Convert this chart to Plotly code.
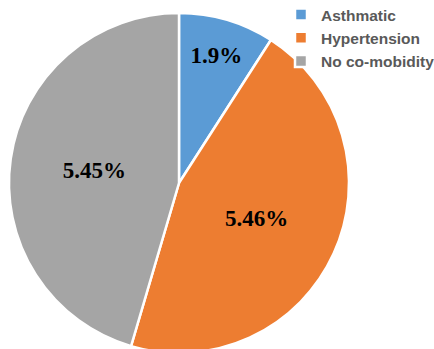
import plotly.graph_objects as go

categories = ["Asthmatic", "Hypertension", "No co-mobidity"]
shares = [9.09, 45.46, 45.45]
label_text = ["1.9%", "5.46%", "5.45%"]
colors = ["#5B9BD5", "#ED7D31", "#A5A5A5"]

W, H = 434, 366

fig = go.Figure(go.Pie(
    labels=categories,
    values=shares,
    text=label_text,
    textinfo="text",
    textposition="inside",
    insidetextorientation="horizontal",
    textfont=dict(family="Liberation Serif", size=23, color="black", weight="bold"),
    marker=dict(colors=colors, line=dict(color="white", width=2.5)),
    sort=False,
    direction="clockwise",
    rotation=0,
    domain=dict(x=[9 / W, 349 / W], y=[0, 1]),
    hoverinfo="skip",
))

fig.update_layout(
    width=W, height=H,
    margin=dict(l=0, r=0, t=0, b=0, autoexpand=False),
    paper_bgcolor="white",
    showlegend=True,
    legend=dict(
        x=281 / W, y=1 + 2 / H, xanchor="left", yanchor="top",
        font=dict(family="Liberation Sans", size=15.5, color="#595959", weight="bold"),
        bgcolor="rgba(0,0,0,0)", itemwidth=30, tracegroupgap=0,
    ),
)

fig.write_html("out.html", post_script="document.body.style.overflow='hidden';")
